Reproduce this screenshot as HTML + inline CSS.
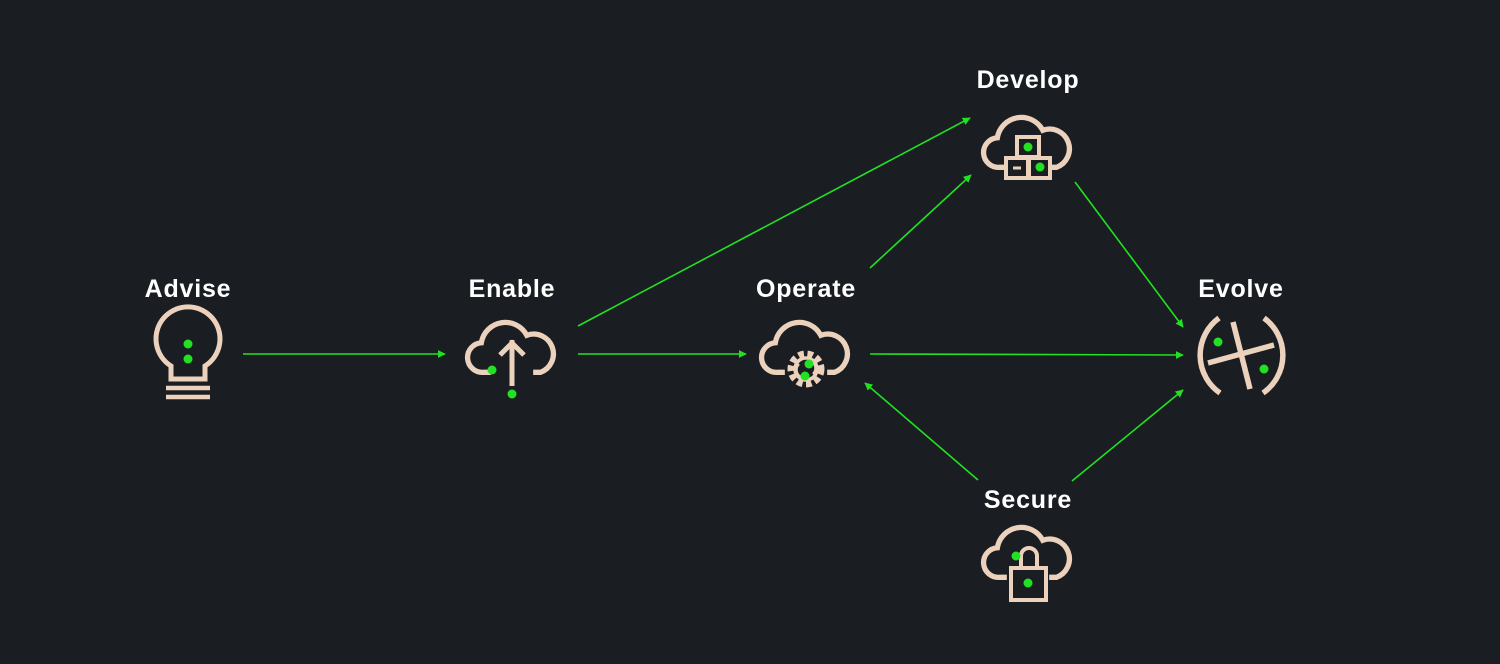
<!DOCTYPE html>
<html><head><meta charset="utf-8"><style>
html,body{margin:0;padding:0;background:#1a1e22;}
svg{display:block}
text{font-family:"Liberation Sans",sans-serif;font-weight:bold;font-size:25px;fill:#fff;text-anchor:middle;letter-spacing:0.8px}
</style></head><body>
<svg width="1500" height="664" viewBox="0 0 1500 664">
<defs>
<marker id="a" viewBox="0 0 10 10" refX="9" refY="5" markerWidth="8" markerHeight="8" orient="auto" markerUnits="userSpaceOnUse"><path d="M0,0 L10,5 L0,10 z" fill="#22e022"/></marker>
<symbol id="cloud" viewBox="-50 -35 100 70" overflow="visible">
<path d="M-20,23 H-27 A14,14 0 0 1 -29,-5 A23,23 0 0 1 14,-12 A17,17 0 0 1 27,23 H20" fill="none" stroke="#ecd2bd" stroke-width="5"/>
</symbol>
</defs>
<g stroke="#22e022" stroke-width="1.6" fill="none" marker-end="url(#a)">
<line x1="243" y1="354" x2="445" y2="354"/>
<line x1="578" y1="354" x2="746" y2="354"/>
<line x1="578" y1="326" x2="970" y2="118"/>
<line x1="870" y1="268" x2="971" y2="175"/>
<line x1="1075" y1="182" x2="1183" y2="327"/>
<line x1="870" y1="354" x2="1183" y2="355"/>
<line x1="978" y1="480" x2="865" y2="383"/>
<line x1="1072" y1="481" x2="1183" y2="390"/>
</g>
<text x="188" y="297">Advise</text>
<text x="512" y="297">Enable</text>
<text x="806" y="297">Operate</text>
<text x="1028" y="88">Develop</text>
<text x="1241" y="297">Evolve</text>
<text x="1028" y="508">Secure</text>
<g stroke="#ecd2bd" stroke-width="5" fill="none">
<path d="M171,379 V366 A32,32 0 1 1 205,366 V379 Z"/>
<line x1="166" y1="388" x2="210" y2="388" stroke-width="4.5"/>
<line x1="166" y1="397" x2="210" y2="397" stroke-width="4.5"/>
</g>
<use href="#cloud" x="459" y="311" width="106" height="74"/>
<g stroke="#ecd2bd" stroke-width="5" fill="none">
<line x1="512" y1="340" x2="512" y2="386"/>
<path d="M500,355 L512,343 L524,355"/>
</g>
<use href="#cloud" x="753" y="311" width="106" height="74"/>
<g stroke="#ecd2bd" fill="none">
<circle cx="806" cy="369" r="15" stroke-width="7" stroke-dasharray="5.5 3.5"/>
<circle cx="806" cy="369" r="11" stroke-width="3.5"/>
<path d="M799,364 A8,8 0 0 0 801,377 M813,374 A8,8 0 0 0 811,361" stroke-width="2.5"/>
</g>
<use href="#cloud" x="975" y="106" width="106" height="74"/>
<g stroke="#ecd2bd" stroke-width="4" fill="#1a1e22">
<rect x="1017" y="137" width="22" height="20"/>
<rect x="1006" y="158" width="22" height="20"/>
<rect x="1029" y="158" width="21" height="20"/>
<line x1="1013" y1="168" x2="1021" y2="168" stroke-width="3"/>
</g>
<use href="#cloud" x="975" y="516" width="106" height="74"/>
<g stroke="#ecd2bd" stroke-width="4" fill="#1a1e22">
<path d="M1021,568 V556 A8,8 0 0 1 1037,556 V568" fill="none"/>
<rect x="1011" y="568" width="35" height="32"/>
</g>
<g stroke="#ecd2bd" stroke-width="5.5" fill="none">
<path d="M1219,318 A46,46 0 0 0 1220,393"/>
<path d="M1264,318 A46,46 0 0 1 1263,393"/>
<line x1="1233" y1="322" x2="1250" y2="389"/>
<line x1="1208" y1="363" x2="1274" y2="345"/>
</g>
<g fill="#22e022">
<circle cx="188" cy="344" r="4.5"/><circle cx="188" cy="359" r="4.5"/>
<circle cx="492" cy="370" r="4.5"/><circle cx="512" cy="394" r="4.5"/>
<circle cx="809" cy="364" r="4.5"/><circle cx="805" cy="376" r="4.5"/>
<circle cx="1028" cy="147" r="4.5"/><circle cx="1040" cy="167" r="4.5"/>
<circle cx="1016" cy="556" r="4.5"/><circle cx="1028" cy="583" r="4.5"/>
<circle cx="1218" cy="342" r="4.5"/><circle cx="1264" cy="369" r="4.5"/>
</g>
</svg>
</body></html>
